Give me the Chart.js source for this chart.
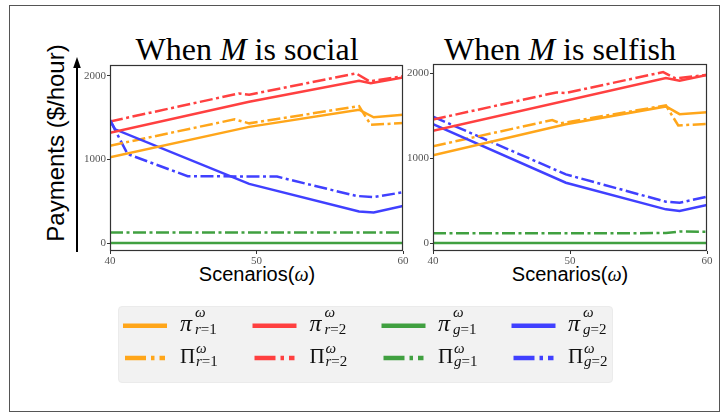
<!DOCTYPE html>
<html>
<head>
<meta charset="utf-8">
<script src="https://cdn.jsdelivr.net/npm/chart.js@4.4.1/dist/chart.umd.min.js"></script>
<style>
  body { margin: 0; background: #fff; }
  #page { position: relative; width: 726px; height: 414px; overflow: hidden; background: #fff; }
  #frame { position: absolute; left: 9px; top: 5px; width: 709px; height: 405px; border: 1.5px solid #555; }
  .title { position: absolute; width: 320px; text-align: center; font-family: 'Liberation Serif', serif; font-size: 32px; line-height: 1; color: #000; white-space: nowrap; }
  .xlab { position: absolute; width: 200px; text-align: center; font-family: 'Liberation Sans', Arial, sans-serif; font-size: 20px; line-height: 1; color: #000; }
  .xlab i, .title i { font-family: 'Liberation Serif', serif; }
  #ylab { position: absolute; left: -74px; top: 131px; width: 260px; text-align: center; font-family: 'Liberation Sans', Arial, sans-serif; font-size: 24px; line-height: 24px; transform: rotate(-90deg); white-space: nowrap; }
  canvas { position: absolute; }
  #legendBox { position: absolute; left: 118px; top: 306px; width: 493px; height: 75px; background: #f2f2f2; border: 1px solid #ebebeb; border-radius: 4px; }
  .lg { position: absolute; font-family: 'Liberation Serif', serif; line-height: 1; white-space: nowrap; color: #111; }
  #overlay { position: absolute; left: 0; top: 0; }
</style>
</head>
<body>
<div id="page">
  <div id="frame"></div>
  <div class="title" style="left:87px; top:33px;">When <i>M</i> is social</div>
  <div class="title" style="left:400px; top:33px;">When <i>M</i> is selfish</div>
  <div id="ylab">Payments ($/hour)</div>
  <div class="xlab" style="left:157px; top:264px;">Scenarios(<i>ω</i>)</div>
  <div class="xlab" style="left:470px; top:264px;">Scenarios(<i>ω</i>)</div>
  <canvas id="social" width="331" height="210" style="left:80px; top:57px;"></canvas>
  <canvas id="selfish" width="312" height="211" style="left:403px; top:56px;"></canvas>
  <div id="legendBox"></div>
  <svg id="overlay" width="726" height="414"></svg>
  <div id="legend"></div>
</div>
<script>
// axis ticks
var xTicks = [40, 50, 60];
var yTicks = [0, 1000, 2000];

// When M is social  -- [scenario, payment $/hour]
var socialPiR1 = [[40, 1025], [49.5, 1390], [57, 1595], [58, 1505], [60, 1535]];
var socialPiR2 = [[40, 1320], [49.5, 1690], [57, 1940], [57.8, 1912], [60, 1980]];
var socialPiG1 = [[40, 0], [60, 0]];
var socialPiG2 = [[40, 1470], [40.35, 1360], [49.5, 708], [57, 377], [58, 365], [60, 445]];
var socialBigR1 = [[40, 1165], [48.5, 1480], [49.5, 1432], [57, 1638], [57.8, 1415], [60, 1435]];
var socialBigR2 = [[40, 1455], [48.8, 1790], [49.5, 1775], [56.8, 2030], [57.7, 1935], [60, 1995]];
var socialBigG1 = [[40, 125], [60, 125]];
var socialBigG2 = [[40, 1470], [41.2, 1065], [45.3, 800], [51.4, 795], [56.8, 564], [58, 549], [60, 608]];

// When M is selfish
var selfishPiR1 = [[40, 1035], [49.7, 1399], [57, 1610], [58, 1519], [60, 1541]];
var selfishPiR2 = [[40, 1324], [57, 1945], [58, 1913], [60, 1980]];
var selfishPiG1 = [[40, 0], [60, 0]];
var selfishPiG2 = [[40, 1400], [49.7, 711], [57, 397], [58, 377], [60, 448]];
var selfishBigR1 = [[40, 1140], [48.7, 1450], [49.3, 1411], [57, 1622], [57.9, 1385], [60, 1405]];
var selfishBigR2 = [[40, 1455], [49, 1775], [49.7, 1768], [56.8, 2015], [57.7, 1940], [60, 1982]];
var selfishBigG1 = [[40, 114], [57, 117], [58, 135], [60, 134]];
var selfishBigG2 = [[40, 1490], [49.7, 809], [57, 487], [58, 475], [60, 546]];

// legend texts
var legendSym = ['π', 'π', 'π', 'π', 'Π', 'Π', 'Π', 'Π'];
var legendSub = ['r=1', 'r=2', 'g=1', 'g=2', 'r=1', 'r=2', 'g=1', 'g=2'];

var lineColors = ['#ffa61a', '#ff4040', '#40a040', '#4040ff'];
var dashDot = [13, 3.5, 3, 3.5];

function makeSets(list) {
    return list.map(function (pts, i) {
        return {
            data: pts.map(function (p) { return { x: p[0], y: p[1] }; }),
            borderColor: lineColors[i % 4],
            borderWidth: 2.5,
            borderDash: i < 4 ? [] : dashDot,
            pointRadius: 0,
            tension: 0,
            fill: false
        };
    });
}

// box around the plot area, like the matplotlib spines
var framePlugin = {
    id: 'frame',
    afterDraw: function (chart) {
        var a = chart.chartArea, ctx = chart.ctx;
        ctx.save();
        ctx.strokeStyle = '#333';
        ctx.lineWidth = 1.2;
        ctx.strokeRect(Math.round(a.left) + 0.5, Math.round(a.top) + 0.5,
            Math.round(a.right - a.left) - 1, Math.round(a.bottom - a.top) - 1);
        ctx.restore();
    }
};

var tickFont = { family: 'Liberation Serif', size: 11 };
function plainLabel(v) { return String(v); }

function makeOptions(yMin, yMax) {
    return {
        responsive: false,
        animation: false,
        layout: { padding: { top: 8, right: 8, left: 0, bottom: 0 } },
        plugins: { legend: { display: false }, tooltip: { enabled: false } },
        scales: {
            x: {
                type: 'linear', min: 40, max: 60,
                afterBuildTicks: function (s) { s.ticks = xTicks.map(function (v) { return { value: v }; }); },
                afterFit: function (s) { s.height = 16; },
                ticks: { font: tickFont, color: '#555', padding: 1, maxRotation: 0, callback: plainLabel },
                grid: { drawOnChartArea: false, tickLength: 3, color: '#333' },
                border: { display: false }
            },
            y: {
                type: 'linear', min: yMin, max: yMax,
                afterBuildTicks: function (s) { s.ticks = yTicks.map(function (v) { return { value: v }; }); },
                afterFit: function (s) { s.width = 30; },
                ticks: { font: tickFont, color: '#555', padding: 1, callback: plainLabel },
                grid: { drawOnChartArea: false, tickLength: 3, color: '#333' },
                border: { display: false }
            }
        }
    };
}

new Chart(document.getElementById('social'), {
    type: 'line',
    data: { datasets: makeSets([socialPiR1, socialPiR2, socialPiG1, socialPiG2,
        socialBigR1, socialBigR2, socialBigG1, socialBigG2]) },
    options: makeOptions(-95, 2130),
    plugins: [framePlugin]
});

new Chart(document.getElementById('selfish'), {
    type: 'line',
    data: { datasets: makeSets([selfishPiR1, selfishPiR2, selfishPiG1, selfishPiG2,
        selfishBigR1, selfishBigR2, selfishBigG1, selfishBigG2]) },
    options: makeOptions(-94, 2110),
    plugins: [framePlugin]
});

// arrow next to the y label and the legend handles
var svg = document.getElementById('overlay');
var ns = 'http://www.w3.org/2000/svg';
function el(name, attrs) {
    var e = document.createElementNS(ns, name);
    for (var k in attrs) e.setAttribute(k, attrs[k]);
    svg.appendChild(e);
    return e;
}
el('line', { x1: 77, y1: 252, x2: 77, y2: 66, stroke: '#000', 'stroke-width': 2 });
el('polygon', { points: '77,57 73.2,68 80.8,68', fill: '#000' });

var handleX = [123, 252.5, 381.5, 511.5];
var textX = [180, 309.5, 438, 568];
var legend = document.getElementById('legend');
function addText(txt, x, y, size) {
    var d = document.createElement('div');
    d.className = 'lg';
    d.style.left = x + 'px';
    d.style.top = y + 'px';
    d.style.fontSize = size + 'px';
    d.innerHTML = txt;
    legend.appendChild(d);
}
function subText(s) { return '<i>' + s.charAt(0) + '</i>' + s.slice(1); }
for (var i = 0; i < 8; i++) {
    var col = i % 4, row = Math.floor(i / 4);
    if (row === 0) {
        el('line', { x1: handleX[col], y1: 325.7, x2: handleX[col] + 44, y2: 325.7,
            stroke: lineColors[col], 'stroke-width': 4.5 });
        addText('<i>' + legendSym[i] + '</i>', textX[col], 311, 24);
        addText('<i>ω</i>', textX[col] + 15, 305, 15);
        addText(subText(legendSub[i]), textX[col] + 15, 322, 15);
    } else {
        el('line', { x1: handleX[col] + 2, y1: 358, x2: handleX[col] + 42, y2: 358,
            stroke: lineColors[col], 'stroke-width': 4.5, 'stroke-dasharray': '21 5 3.5 5' });
        addText(legendSym[i], textX[col], 346, 21);
        addText('<i>ω</i>', textX[col] + 16, 341, 15);
        addText(subText(legendSub[i]), textX[col] + 16, 354, 15);
    }
}
</script>
</body>
</html>
